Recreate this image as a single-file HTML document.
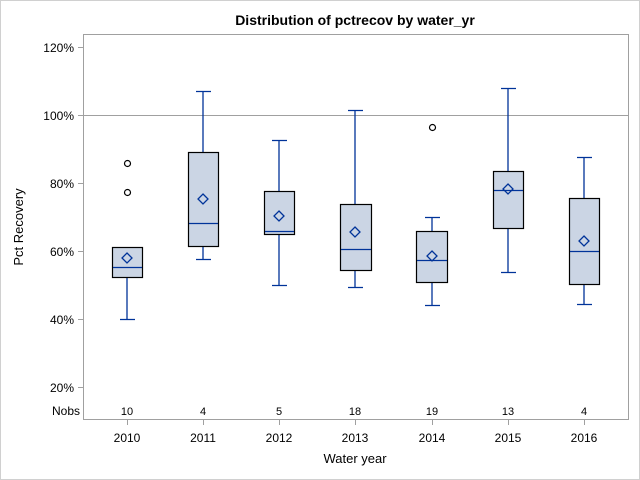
<!DOCTYPE html>
<html><head><style>body{margin:0;background:#fff}svg{display:block}</style></head><body>
<svg width="640" height="480" xmlns="http://www.w3.org/2000/svg" font-family="Liberation Sans, Arial, sans-serif">
<rect x="0.5" y="0.5" width="639" height="479" fill="#fff" stroke="#d0d0d0"/>
<text x="355" y="25" text-anchor="middle" font-size="14" font-weight="bold">Distribution of pctrecov by water_yr</text>
<rect x="83.5" y="34.5" width="545" height="385" fill="#fff" stroke="#a0a0a0"/>
<line x1="84" x2="628" y1="115.5" y2="115.5" stroke="#a0a0a0"/>
<g stroke="#a0a0a0"><line x1="78" x2="83" y1="47.5" y2="47.5"/><line x1="78" x2="83" y1="115.5" y2="115.5"/><line x1="78" x2="83" y1="183.5" y2="183.5"/><line x1="78" x2="83" y1="251.5" y2="251.5"/><line x1="78" x2="83" y1="319.5" y2="319.5"/><line x1="78" x2="83" y1="387.5" y2="387.5"/>
<line x1="127.5" x2="127.5" y1="420" y2="425"/><line x1="203.5" x2="203.5" y1="420" y2="425"/><line x1="279.5" x2="279.5" y1="420" y2="425"/><line x1="355.5" x2="355.5" y1="420" y2="425"/><line x1="432.5" x2="432.5" y1="420" y2="425"/><line x1="508.5" x2="508.5" y1="420" y2="425"/><line x1="584.5" x2="584.5" y1="420" y2="425"/></g>
<g font-size="12" text-anchor="end"><text x="74" y="52">120%</text><text x="74" y="120">100%</text><text x="74" y="188">80%</text><text x="74" y="256">60%</text><text x="74" y="324">40%</text><text x="74" y="392">20%</text></g>
<text transform="translate(23,227) rotate(-90)" text-anchor="middle" font-size="13">Pct Recovery</text>
<g font-size="12" text-anchor="middle"><text x="127" y="442">2010</text><text x="203" y="442">2011</text><text x="279" y="442">2012</text><text x="355" y="442">2013</text><text x="432" y="442">2014</text><text x="508" y="442">2015</text><text x="584" y="442">2016</text></g>
<text x="355" y="463" text-anchor="middle" font-size="13">Water year</text>
<g font-size="11" text-anchor="middle"><text x="80" y="415" text-anchor="end" font-size="12">Nobs</text><text x="127" y="415">10</text><text x="203" y="415">4</text><text x="279" y="415">5</text><text x="355" y="415">18</text><text x="432" y="415">19</text><text x="508" y="415">13</text><text x="584" y="415">4</text></g>
<g fill="none" stroke="#003399" stroke-width="1.3">
<path d="M127,277V319.5M120,319.5H135"/>
<path d="M203,91.5V152M196,91.5H211M203,246V259.5M196,259.5H211"/>
<path d="M279,140.5V191M272,140.5H287M279,234V285.5M272,285.5H287"/>
<path d="M355,110.5V204M348,110.5H363M355,270V287.5M348,287.5H363"/>
<path d="M432,217.5V231M425,217.5H440M432,282V305.5M425,305.5H440"/>
<path d="M508,88.5V171M501,88.5H516M508,228V272.5M501,272.5H516"/>
<path d="M584,157.5V198M577,157.5H592M584,284V304.5M577,304.5H592"/>
</g>
<g fill="#cbd5e4" stroke="#000" stroke-width="1.2">
<rect x="112.5" y="247.5" width="30" height="30"/>
<rect x="188.5" y="152.5" width="30" height="94"/>
<rect x="264.5" y="191.5" width="30" height="43"/>
<rect x="340.5" y="204.5" width="31" height="66"/>
<rect x="416.5" y="231.5" width="31" height="51"/>
<rect x="493.5" y="171.5" width="30" height="57"/>
<rect x="569.5" y="198.5" width="30" height="86"/>
</g>
<g stroke="#003399" stroke-width="1.3">
<line x1="113" x2="142" y1="267.5" y2="267.5"/>
<line x1="189" x2="218" y1="223.5" y2="223.5"/>
<line x1="265" x2="294" y1="231.5" y2="231.5"/>
<line x1="341" x2="371" y1="249.5" y2="249.5"/>
<line x1="417" x2="447" y1="260.5" y2="260.5"/>
<line x1="494" x2="523" y1="190.5" y2="190.5"/>
<line x1="570" x2="599" y1="251.5" y2="251.5"/>
</g>
<g fill="none" stroke="#003399" stroke-width="1.3">
<path d="M127,253l5,5l-5,5l-5,-5z"/>
<path d="M203,194l5,5l-5,5l-5,-5z"/>
<path d="M279,211l5,5l-5,5l-5,-5z"/>
<path d="M355,227l5,5l-5,5l-5,-5z"/>
<path d="M432,251l5,5l-5,5l-5,-5z"/>
<path d="M508,184l5,5l-5,5l-5,-5z"/>
<path d="M584,236l5,5l-5,5l-5,-5z"/>
</g>
<g fill="none" stroke="#000" stroke-width="1.2">
<circle cx="127.5" cy="163.5" r="3"/><circle cx="127.5" cy="192.5" r="3"/><circle cx="432.5" cy="127.5" r="3"/>
</g>
</svg>
</body></html>
